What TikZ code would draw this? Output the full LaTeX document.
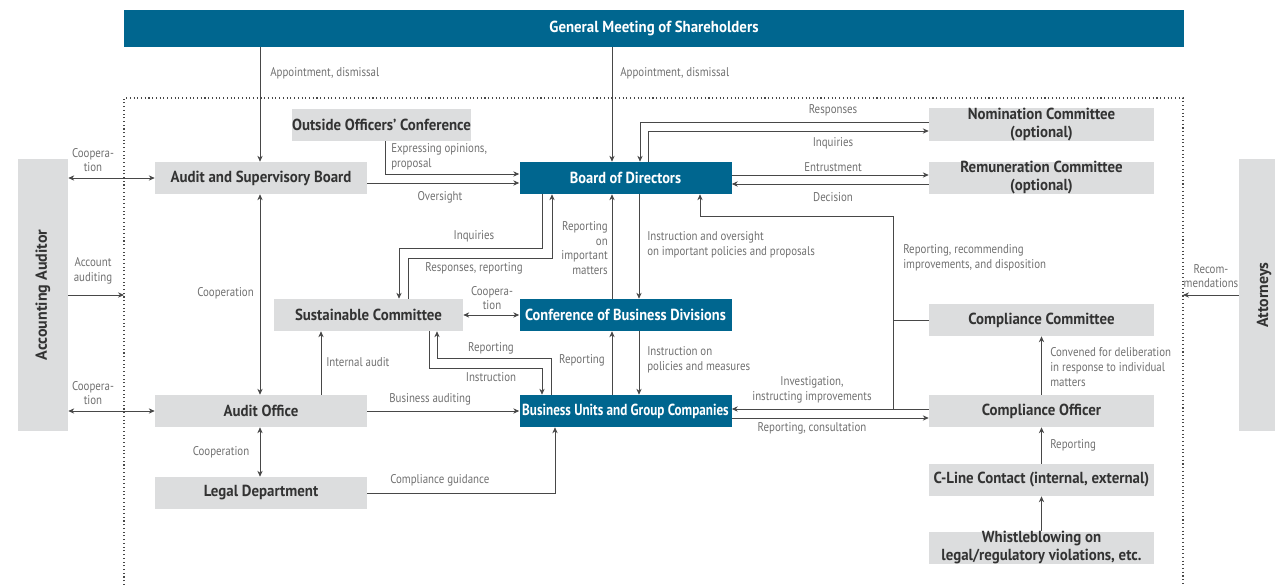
\documentclass[tikz,border=0pt]{standalone}
\usepackage{fontspec}
\setmainfont{PT Sans}
\newfontfamily\boxfont{PT Sans}[FakeStretch=0.93]
\newfontfamily\bluefont{PT Sans}[FakeStretch=0.9]
\newfontfamily\narrowfont{PT Sans}[FakeStretch=0.82]
\newfontfamily\lblfont{PT Sans}[FakeStretch=0.86]
\usetikzlibrary{arrows.meta}

\tikzset{
  graybox/.style={fill=boxgray, text=boxtext, font=\boxfont\bfseries\fontsize{12}{13.5}\selectfont, inner sep=0pt, align=center, minimum height=\boxh},
  bluebox/.style={graybox, fill=ccblue, text=white, font=\bluefont\bfseries\fontsize{12}{13.5}\selectfont},
  sidebox/.style={graybox, font=\bfseries\fontsize{12}{14}\selectfont, minimum width=50*0.75pt, minimum height=272*0.75pt},
  lbl/.style={text=lbltext, font=\lblfont\fontsize{9.5}{11}\selectfont, inner sep=0pt},
  conn/.style={draw=linegray, line width=0.7pt},
  arr/.style={conn, -{Stealth[length=4.5pt,width=4pt]}},
  darr/.style={conn, {Stealth[length=4.5pt,width=4pt]}-{Stealth[length=4.5pt,width=4pt]}}
}

\begin{document}
\begin{tikzpicture}[x=0.75pt,y=-0.75pt]
\definecolor{ccblue}{HTML}{00668F}
\definecolor{boxgray}{HTML}{DCDDDE}
\definecolor{boxtext}{HTML}{333333}
\definecolor{lbltext}{HTML}{707070}
\definecolor{linegray}{HTML}{484848}
\pgfmathsetlengthmacro\boxh{32*0.75};
\pgfmathsetlengthmacro\boxw{212*0.75};
\pgfmathsetlengthmacro\boxwr{225*0.75};
\useasboundingbox (0,0) rectangle (1275,585);
\draw[dotted, line width=0.8pt, draw=linegray] (124,585) |- (1183,98) -- (1183,585);

\node[bluebox, font=\boxfont\bfseries\fontsize{12}{13.5}\selectfont, minimum width=1060*0.75pt, minimum height=37*0.75pt] (gm) at (654,28.5) {General Meeting of Shareholders};
\node[graybox, minimum width=\boxw] (asb) at (261,178) {Audit and Supervisory Board};
\node[graybox, minimum width=177*0.75pt] (ooc) at (381.5,125) {Outside Officers’ Conference};
\node[bluebox, minimum width=\boxw] (bod) at (625.5,178) {Board of Directors};
\node[graybox, minimum width=\boxwr, minimum height=33*0.75pt] (nom) at (1041.5,124.5) {Nomination Committee\\(optional)};
\node[graybox, minimum width=\boxwr] (rem) at (1041.5,178) {Remuneration Committee\\(optional)};
\node[graybox, minimum width=189*0.75pt] (sus) at (368.5,315) {Sustainable Committee};
\node[bluebox, minimum width=\boxw] (cbd) at (625.5,315) {Conference of Business Divisions};
\node[graybox, minimum width=\boxwr] (ccm) at (1041.5,320) {Compliance Committee};
\node[graybox, minimum width=\boxw] (aof) at (261,411) {Audit Office};
\node[bluebox, font=\narrowfont\bfseries\fontsize{12}{13.5}\selectfont, minimum width=\boxw] (bug) at (625.5,411) {Business Units and Group Companies};
\node[graybox, minimum width=\boxwr] (cof) at (1041.5,411) {Compliance Officer};
\node[graybox, minimum width=\boxw] (leg) at (261,493) {Legal Department};
\node[graybox, minimum width=\boxwr] (cli) at (1041.5,480) {C-Line Contact (internal, external)};
\node[graybox, minimum width=\boxwr] (wsb) at (1041.5,548) {Whistleblowing on\\legal/regulatory violations, etc.};
\node[sidebox] (aca) at (43,295) {\rotatebox{90}{Accounting Auditor}};
\node[sidebox] (att) at (1264,295) {\rotatebox{90}{Attorneys}};

\coordinate (lin) at (124,295);
\coordinate (rin) at (1183,295);
\coordinate (jn) at (893,216);

\draw[arr] (gm.south -| 260,0) -- (asb.north -| 260,0);
\draw[arr] (gm.south -| 612,0) -- (bod.north -| 612,0);
\draw[darr] (aca.east |- asb) -- (asb.west);
\draw[arr] (aca.east |- lin) -- (lin);
\draw[darr] (aca.east |- aof) -- (aof.west);
\draw[arr] (att.west |- rin) -- (rin);
\draw[darr] (asb.south -| 260,0) -- (aof.north -| 260,0);
\draw[darr] (aof.south -| 260,0) -- (leg.north -| 260,0);
\draw[arr] (ooc.south -| 385,0) |- (bod.west |- 0,174);
\draw[arr] (asb.east |- 0,183) -- (bod.west |- 0,183);
\draw[arr] (nom.west |- 0,122) -| (bod.north -| 640,0);
\draw[arr] (bod.north -| 648,0) |- (nom.west |- 0,131);
\draw[arr] (bod.east |- 0,175) -- (rem.west |- 0,175);
\draw[arr] (rem.west |- 0,184) -- (bod.east |- 0,184);
\draw[arr] (bod.south -| 542,0) |- (399,248) -- (sus.north -| 399,0);
\draw[arr] (sus.north -| 408,0) |- (552,258) -- (bod.south -| 552,0);
\draw[arr] (cbd.north -| 612,0) -- (bod.south -| 612,0);
\draw[arr] (bod.south -| 639,0) -- (cbd.north -| 639,0);
\draw[darr] (sus.east) -- (cbd.west);
\draw[arr] (bug.north -| 551,0) |- (437,358) -- (sus.south -| 437,0);
\draw[arr] (sus.south -| 429,0) |- (542,368) -- (bug.north -| 542,0);
\draw[arr] (bug.north -| 612,0) -- (cbd.south -| 612,0);
\draw[arr] (cbd.south -| 639,0) -- (bug.north -| 639,0);
\draw[arr] (aof.north -| 321,0) -- (sus.south -| 321,0);
\draw[arr] (aof.east) -- (bug.west);
\draw[arr] (leg.east) -| (bug.south -| 555,0);
\draw[arr] (ccm.west) -| (jn) -| (bod.south -| 700,0);
\draw[conn] (jn |- ccm.west) -- (jn |- 0,409);
\draw[arr] (cof.west |- 0,409) -- (bug.east |- 0,409);
\draw[arr] (bug.east |- 0,418) -- (cof.west |- 0,418);
\draw[arr] (cof.north) -- (ccm.south);
\draw[arr] (cli.north) -- (cof.south);
\draw[arr] (wsb.north) -- (cli.south);

\node[lbl, anchor=west] (l1) at (270,73) {Appointment, dismissal};
\node[lbl, anchor=west] (l2) at (620,73) {Appointment, dismissal};
\node[lbl, align=center] (l3) at (93,160) {Coopera-\\tion};
\node[lbl, align=center] (l4) at (93,271) {Account\\auditing};
\node[lbl, align=center] (l5) at (93,393) {Coopera-\\tion};
\node[lbl, align=center] (l6) at (1211,276) {Recom-\\mendations};
\node[lbl, anchor=east] (l7) at (254,293) {Cooperation};
\node[lbl] (l8) at (221,452) {Cooperation};
\node[lbl, anchor=west, align=left] (l9) at (391,157) {Expressing opinions,\\proposal};
\node[lbl] (l10) at (440,197) {Oversight};
\node[lbl] (l11) at (833,110) {Responses};
\node[lbl] (l12) at (833,143) {Inquiries};
\node[lbl] (l13) at (833,167) {Entrustment};
\node[lbl] (l14) at (833,197) {Decision};
\node[lbl] (l15) at (474,236) {Inquiries};
\node[lbl] (l16) at (474,268) {Responses, reporting};
\node[lbl, anchor=east, align=right] (l17) at (608,248) {Reporting\\on\\important\\matters};
\node[lbl, anchor=west, align=left] (l18) at (647,245) {Instruction and oversight\\on important policies and proposals};
\node[lbl, anchor=west, align=left] (l19) at (903,258) {Reporting, recommending\\improvements, and disposition};
\node[lbl, align=center] (l20) at (492,298) {Coopera-\\tion};
\node[lbl, anchor=west] (l21) at (326,362) {Internal audit};
\node[lbl] (l22) at (491,348) {Reporting};
\node[lbl] (l23) at (491,377) {Instruction};
\node[lbl, anchor=east] (l24) at (605,360) {Reporting};
\node[lbl, anchor=west, align=left] (l25) at (647,360) {Instruction on\\policies and measures};
\node[lbl, anchor=west] (l26) at (389,399) {Business auditing};
\node[lbl, anchor=west] (l27) at (390,480) {Compliance guidance};
\node[lbl, align=center] (l28) at (812,390) {Investigation,\\instructing improvements};
\node[lbl] (l29) at (812,428) {Reporting, consultation};
\node[lbl, anchor=west, align=left] (l30) at (1050,367) {Convened for deliberation\\in response to individual\\matters};
\node[lbl, anchor=west] (l31) at (1050,445) {Reporting};
\end{tikzpicture}
\end{document}
